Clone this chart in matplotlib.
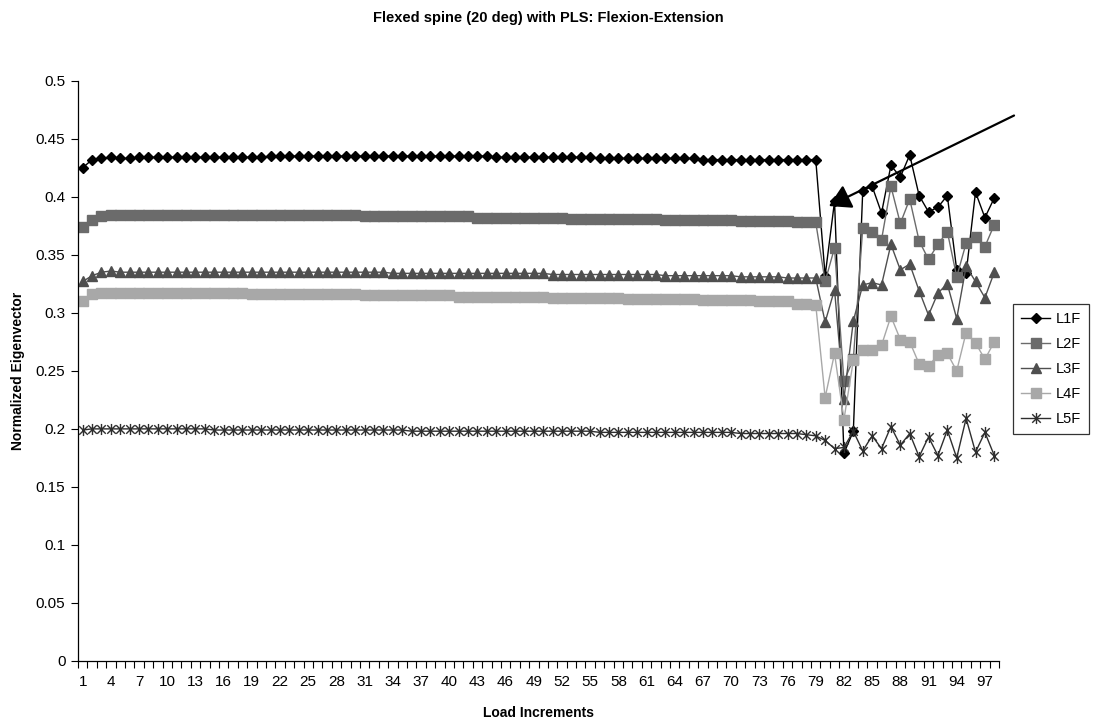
import matplotlib
matplotlib.use('Agg')
import matplotlib.pyplot as plt
from matplotlib.path import Path
import numpy as np

plt.rcParams['font.family'] = ['Liberation Sans', 'DejaVu Sans']

# Load increments 1..98
increments = list(range(1, 99))

L1F = [0.425, 0.432, 0.433, 0.434, 0.433, 0.433,
       0.434, 0.434, 0.434, 0.434, 0.434, 0.434, 0.434, 0.434, 0.434, 0.434, 0.434, 0.434, 0.434, 0.434,
       0.435, 0.435, 0.435, 0.435, 0.435, 0.435, 0.435, 0.435, 0.435, 0.435, 0.435, 0.435,
       0.435, 0.435, 0.435, 0.435, 0.435, 0.435, 0.435, 0.435, 0.435, 0.435, 0.435, 0.435,
       0.434, 0.434, 0.434, 0.434, 0.434, 0.434, 0.434, 0.434, 0.434, 0.434, 0.434,
       0.433, 0.433, 0.433, 0.433, 0.433, 0.433, 0.433, 0.433, 0.433, 0.433, 0.433,
       0.432, 0.432, 0.432, 0.432, 0.432, 0.432, 0.432, 0.432, 0.432, 0.432, 0.432, 0.432, 0.432,
       0.332, 0.396, 0.179, 0.198, 0.405, 0.409, 0.386, 0.427, 0.417, 0.436,
       0.401, 0.387, 0.391, 0.401, 0.337, 0.334, 0.404, 0.382, 0.399]

L2F = [0.374, 0.380, 0.383,
       0.384, 0.384, 0.384, 0.384, 0.384, 0.384, 0.384, 0.384, 0.384, 0.384, 0.384, 0.384, 0.384, 0.384,
       0.384, 0.384, 0.384, 0.384, 0.384, 0.384, 0.384, 0.384, 0.384, 0.384, 0.384, 0.384, 0.384,
       0.383, 0.383, 0.383, 0.383, 0.383, 0.383, 0.383, 0.383, 0.383, 0.383, 0.383, 0.383,
       0.382, 0.382, 0.382, 0.382, 0.382, 0.382, 0.382, 0.382, 0.382, 0.382,
       0.381, 0.381, 0.381, 0.381, 0.381, 0.381, 0.381, 0.381, 0.381, 0.381,
       0.380, 0.380, 0.380, 0.380, 0.380, 0.380, 0.380, 0.380,
       0.379, 0.379, 0.379, 0.379, 0.379, 0.379,
       0.378, 0.378, 0.378,
       0.327, 0.356, 0.241, 0.260, 0.373, 0.370, 0.363, 0.409, 0.377, 0.398,
       0.362, 0.346, 0.359, 0.370, 0.331, 0.360, 0.365, 0.357, 0.376]

L3F = [0.327, 0.332, 0.335, 0.336,
       0.335, 0.335, 0.335, 0.335, 0.335, 0.335, 0.335, 0.335, 0.335, 0.335, 0.335, 0.335, 0.335, 0.335,
       0.335, 0.335, 0.335, 0.335, 0.335, 0.335, 0.335, 0.335, 0.335, 0.335, 0.335, 0.335, 0.335, 0.335, 0.335,
       0.334, 0.334, 0.334, 0.334, 0.334, 0.334, 0.334, 0.334, 0.334, 0.334, 0.334, 0.334, 0.334, 0.334, 0.334,
       0.334, 0.334,
       0.333, 0.333, 0.333, 0.333, 0.333, 0.333, 0.333, 0.333, 0.333, 0.333, 0.333, 0.333,
       0.332, 0.332, 0.332, 0.332, 0.332, 0.332, 0.332, 0.332,
       0.331, 0.331, 0.331, 0.331, 0.331,
       0.330, 0.330, 0.330, 0.330,
       0.292, 0.320, 0.226, 0.293, 0.324, 0.326, 0.324, 0.359, 0.337, 0.342,
       0.319, 0.298, 0.317, 0.325, 0.295, 0.340, 0.327, 0.313, 0.335]

L4F = [0.310, 0.316,
       0.317, 0.317, 0.317, 0.317, 0.317, 0.317, 0.317, 0.317, 0.317, 0.317, 0.317, 0.317, 0.317, 0.317,
       0.317, 0.317,
       0.316, 0.316, 0.316, 0.316, 0.316, 0.316, 0.316, 0.316, 0.316, 0.316, 0.316, 0.316,
       0.315, 0.315, 0.315, 0.315, 0.315, 0.315, 0.315, 0.315, 0.315, 0.315,
       0.314, 0.314, 0.314, 0.314, 0.314, 0.314, 0.314, 0.314, 0.314, 0.314,
       0.313, 0.313, 0.313, 0.313, 0.313, 0.313, 0.313, 0.313,
       0.312, 0.312, 0.312, 0.312, 0.312, 0.312, 0.312, 0.312,
       0.311, 0.311, 0.311, 0.311, 0.311, 0.311,
       0.310, 0.310, 0.310, 0.310,
       0.308, 0.308, 0.307,
       0.227, 0.265, 0.208, 0.259, 0.268, 0.268, 0.272, 0.297, 0.277, 0.275,
       0.256, 0.254, 0.264, 0.265, 0.250, 0.283, 0.274, 0.260, 0.275]

L5F = [0.199,
       0.200, 0.200, 0.200, 0.200, 0.200, 0.200, 0.200, 0.200, 0.200, 0.200, 0.200, 0.200, 0.200,
       0.199, 0.199, 0.199, 0.199, 0.199, 0.199, 0.199, 0.199, 0.199, 0.199, 0.199, 0.199, 0.199,
       0.199, 0.199, 0.199, 0.199, 0.199, 0.199, 0.199, 0.199,
       0.198, 0.198, 0.198, 0.198, 0.198, 0.198, 0.198, 0.198, 0.198, 0.198, 0.198, 0.198, 0.198,
       0.198, 0.198, 0.198, 0.198, 0.198, 0.198, 0.198,
       0.197, 0.197, 0.197, 0.197, 0.197, 0.197, 0.197, 0.197, 0.197, 0.197, 0.197, 0.197, 0.197,
       0.197, 0.197,
       0.196, 0.196, 0.196, 0.196, 0.196, 0.196, 0.196,
       0.195, 0.194,
       0.190, 0.183, 0.184, 0.198, 0.181, 0.194, 0.183, 0.202, 0.186, 0.196,
       0.176, 0.193, 0.177, 0.199, 0.175, 0.209, 0.180, 0.197, 0.177]

series_names = ['L1F', 'L2F', 'L3F', 'L4F', 'L5F']
y_ticks = [0, 0.05, 0.1, 0.15, 0.2, 0.25, 0.3, 0.35, 0.4, 0.45, 0.5]

# hand-drawn arrow pointing at the jump around increment 81
arrow_point = (80.4, 0.392)
arrow_tail = (100.1, 0.470)

# Excel-style star marker: an X with a vertical bar
star = Path([(-1, -1), (1, 1), (-1, 1), (1, -1), (0, -1.3), (0, 1.3)],
            [Path.MOVETO, Path.LINETO, Path.MOVETO, Path.LINETO, Path.MOVETO, Path.LINETO])

styles = {
    'L1F': dict(color='black', marker='D', ms=5.5, mfc='black', mec='black'),
    'L2F': dict(color='#6b6b6b', marker='s', ms=6.5, mfc='#6b6b6b', mec='#6b6b6b'),
    'L3F': dict(color='#4f4f4f', marker='^', ms=6.5, mfc='#4f4f4f', mec='#4f4f4f'),
    'L4F': dict(color='#a8a8a8', marker='s', ms=7.2, mfc='#a8a8a8', mec='#a8a8a8'),
    'L5F': dict(color='#2e2e2e', marker=star, ms=8, mfc='none', mec='#2e2e2e', mew=1),
}

fig = plt.figure(figsize=(10.96, 7.25), dpi=100)
ax = fig.add_axes([78 / 1096, 64 / 725, 921 / 1096, 580.3 / 725])

for name, vals in zip(series_names, [L1F, L2F, L3F, L4F, L5F]):
    ax.plot(increments, vals, lw=1, label=name, **styles[name])

ax.annotate('', xy=arrow_point, xytext=arrow_tail, xycoords='data', textcoords='data',
            annotation_clip=False, zorder=5,
            arrowprops=dict(arrowstyle='-|>,head_length=0.55,head_width=0.32', color='black',
                            lw=1.6, mutation_scale=24, shrinkA=0, shrinkB=0))

ax.set_xlim(0.5, 98.5)
ax.set_ylim(0, 0.5)
ax.set_yticks(y_ticks)
ax.set_yticklabels([('%g' % v) for v in y_ticks])
ax.set_xticks(increments[::3])
ax.set_xticklabels([str(v) for v in increments[::3]])
ax.set_xticks(np.arange(0.5, 99, 1), minor=True)
ax.tick_params(axis='x', which='major', length=0, pad=10, labelsize=11)
ax.tick_params(axis='x', which='minor', length=5, direction='out', width=0.8)
ax.tick_params(axis='y', length=5, direction='out', width=0.8, labelsize=11, pad=4)

for s in ['top', 'right']:
    ax.spines[s].set_visible(False)
ax.spines['left'].set_linewidth(0.9)
ax.spines['bottom'].set_linewidth(0.9)

ax.set_xlabel('Load Increments', fontsize=10, fontweight='bold', labelpad=12)
ax.set_ylabel('Normalized Eigenvector', fontsize=10, fontweight='bold', labelpad=8)
fig.text(548 / 1096, 1 - 18 / 725, 'Flexed spine (20 deg) with PLS: Flexion-Extension',
         ha='center', va='center', fontsize=10.5, fontweight='bold')

leg = fig.legend(loc='upper left', bbox_to_anchor=(1013 / 1096, 1 - 304 / 725),
                 frameon=True, fancybox=False, edgecolor='black', fontsize=10.5,
                 handlelength=2.0, borderpad=0.55, labelspacing=0.75, handletextpad=0.4,
                 borderaxespad=0)
leg.get_frame().set_linewidth(0.9)

fig.savefig('out.png', dpi=100)
